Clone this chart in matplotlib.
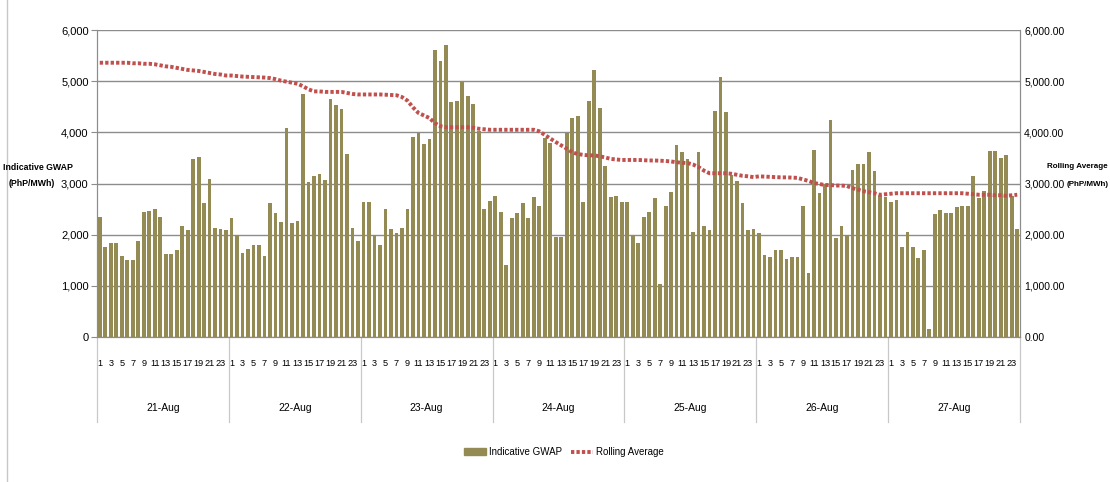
import numpy as np
import matplotlib.pyplot as plt
import matplotlib.transforms as mtransforms
from matplotlib.patches import Patch
from matplotlib.lines import Line2D
from matplotlib.ticker import FuncFormatter

plt.rcParams['font.family'] = ['Liberation Sans', 'DejaVu Sans']

days = ['21-Aug', '22-Aug', '23-Aug', '24-Aug', '25-Aug', '26-Aug', '27-Aug']
hours = list(range(1, 25))

# hourly Indicative GWAP (PhP/MWh), one list per day
gwap_21 = [2350, 1760, 1830, 1830, 1590, 1500, 1500, 1880, 2450, 2470, 2500, 2350,
           1620, 1620, 1710, 2170, 2090, 3480, 3510, 2610, 3080, 2140, 2110, 2090]
gwap_22 = [2320, 1990, 1650, 1720, 1800, 1800, 1590, 2610, 2430, 2250, 4080, 2220,
           2270, 4740, 3030, 3140, 3190, 3060, 4650, 4530, 4450, 3580, 2140, 1880]
gwap_23 = [2640, 2640, 1990, 1800, 2500, 2110, 2040, 2140, 2500, 3900, 3990, 3770,
           3870, 5600, 5390, 5710, 4590, 4610, 4990, 4710, 4560, 4020, 2500, 2660]
gwap_24 = [2760, 2450, 1410, 2320, 2430, 2610, 2320, 2730, 2560, 3880, 3790, 1960,
           1960, 3990, 4280, 4310, 2640, 4610, 5210, 4480, 3350, 2730, 2760, 2640]
gwap_25 = [2640, 1990, 1830, 2350, 2450, 2710, 1030, 2560, 2840, 3760, 3610, 3480,
           2060, 3610, 2170, 2090, 4420, 5080, 4400, 3160, 3050, 2610, 2090, 2110]
gwap_26 = [2040, 1610, 1560, 1710, 1710, 1520, 1560, 1560, 2560, 1250, 3660, 2820,
           2990, 4240, 1930, 2170, 1990, 3270, 3380, 3380, 3610, 3240, 2760, 2730]
gwap_27 = [2640, 2670, 1760, 2060, 1760, 1540, 1710, 150, 2400, 2480, 2430, 2430,
           2540, 2560, 2560, 3140, 2710, 2860, 3640, 3640, 3490, 3560, 2750, 2110]

# rolling average (PhP/MWh)
avg_21 = [5360, 5360, 5360, 5360, 5360, 5360, 5350, 5350, 5340, 5340, 5330, 5310,
          5290, 5280, 5260, 5240, 5220, 5210, 5200, 5180, 5160, 5140, 5130, 5110]
avg_22 = [5110, 5100, 5090, 5085, 5080, 5075, 5070, 5060, 5040, 5010, 4990, 4970,
          4950, 4900, 4840, 4800, 4800, 4790, 4790, 4790, 4790, 4770, 4750, 4740]
avg_23 = [4740, 4740, 4740, 4740, 4735, 4730, 4725, 4690, 4620, 4490, 4380, 4330,
          4280, 4180, 4120, 4100, 4100, 4100, 4100, 4100, 4090, 4070, 4060, 4050]
avg_24 = [4050, 4050, 4050, 4050, 4050, 4050, 4050, 4050, 4020, 3950, 3880, 3810,
          3745, 3680, 3610, 3575, 3560, 3550, 3550, 3530, 3510, 3480, 3470, 3460]
avg_25 = [3460, 3460, 3460, 3455, 3450, 3450, 3445, 3440, 3430, 3415, 3405, 3400,
          3370, 3320, 3250, 3200, 3200, 3200, 3200, 3190, 3170, 3150, 3140, 3125]
avg_26 = [3140, 3135, 3130, 3125, 3120, 3120, 3115, 3110, 3080, 3050, 3010, 2990,
          2970, 2970, 2960, 2960, 2950, 2910, 2880, 2850, 2830, 2810, 2780, 2790]
avg_27 = [2800, 2810, 2810, 2810, 2810, 2810, 2810, 2810, 2810, 2810, 2810, 2810,
          2810, 2810, 2800, 2790, 2780, 2780, 2780, 2770, 2770, 2760, 2770, 2780]

gwap = gwap_21 + gwap_22 + gwap_23 + gwap_24 + gwap_25 + gwap_26 + gwap_27
avg = avg_21 + avg_22 + avg_23 + avg_24 + avg_25 + avg_26 + avg_27
x = np.arange(len(gwap))

bar_col = '#948a54'
line_col = '#c0504d'
grid_col = '#8c8c8c'
dots = (0, (0.85, 0.55))

fig = plt.figure(figsize=(11.1, 4.82), dpi=100)
ax = fig.add_axes([97/1110, 1 - 337/482, (1020 - 97)/1110, (337 - 30)/482])

ax.bar(x, gwap, width=0.68, color=bar_col, zorder=3)
ax.set_xlim(-0.5, len(gwap) - 0.5)
ax.set_ylim(0, 6000)
ax.set_yticks(range(0, 6001, 1000))
ax.yaxis.set_major_formatter(FuncFormatter(lambda v, p: f'{v:,.0f}'))
ax.yaxis.grid(True, color=grid_col, lw=1)
ax.set_axisbelow(True)
ax.tick_params(axis='y', length=4, color=grid_col, labelsize=8, pad=2)

# hour labels under the bars (odd hours only)
tick_pos = [i for i in x if hours[i % 24] % 2 == 1]
ax.set_xticks(tick_pos)
ax.set_xticklabels([str(hours[i % 24]) for i in tick_pos], fontsize=6.6)
ax.tick_params(axis='x', length=0, pad=16)

ax.spines['top'].set_visible(False)
for s in ['left', 'bottom', 'right']:
    ax.spines[s].set_color(grid_col)

# day group labels and separators
trans = mtransforms.blended_transform_factory(ax.transData, ax.transAxes)
for k, d in enumerate(days):
    ax.text(k * 24 + 11.5, -0.231, d, transform=trans, ha='center', va='center', fontsize=7.5)
for k in range(len(days) + 1):
    ax.plot([k * 24 - 0.5, k * 24 - 0.5], [0, -0.277], transform=trans, clip_on=False,
            color='#c8c8c8', lw=0.9)

ax2 = ax.twinx()
ax2.plot(x, avg, color=line_col, lw=2.8, linestyle=dots, zorder=4)
ax2.set_ylim(0, 6000)
ax2.set_yticks(range(0, 6001, 1000))
ax2.yaxis.set_major_formatter(FuncFormatter(lambda v, p: f'{v:,.2f}'))
ax2.tick_params(axis='y', length=0, labelsize=7.5, pad=3)
ax2.spines['top'].set_visible(False)
for s in ['left', 'bottom', 'right']:
    ax2.spines[s].set_color(grid_col)

# axis titles, drawn one line at a time so they clear the tick labels
fig.text(38/1110, 1 - 167/482, 'Indicative GWAP', ha='center', va='center',
         fontsize=6.3, fontweight='bold')
fig.text(32/1110, 1 - 184/482, '(PhP/MWh)', ha='center', va='center',
         fontsize=6.3, fontweight='bold')
fig.text(1077/1110, 1 - 167/482, 'Rolling Average', ha='center', va='center',
         fontsize=5.8, fontweight='bold')
fig.text(1088/1110, 1 - 184/482, '(PhP/MWh)', ha='center', va='center',
         fontsize=5.8, fontweight='bold')

handles = [Patch(color=bar_col, label='Indicative GWAP'),
           Line2D([0], [0], color=line_col, lw=2.8, linestyle=dots, label='Rolling Average')]
fig.legend(handles=handles, loc='center', bbox_to_anchor=(0.508, 1 - 452/482), ncol=2,
           frameon=False, fontsize=7, handlelength=2.2, handletextpad=0.3, columnspacing=1.0)

# chart area border on the left
fig.add_artist(Line2D([6.5/1110, 6.5/1110], [0, 1], transform=fig.transFigure,
                      color='#c8c8c8', lw=1))

fig.savefig('out.png', dpi=100)
